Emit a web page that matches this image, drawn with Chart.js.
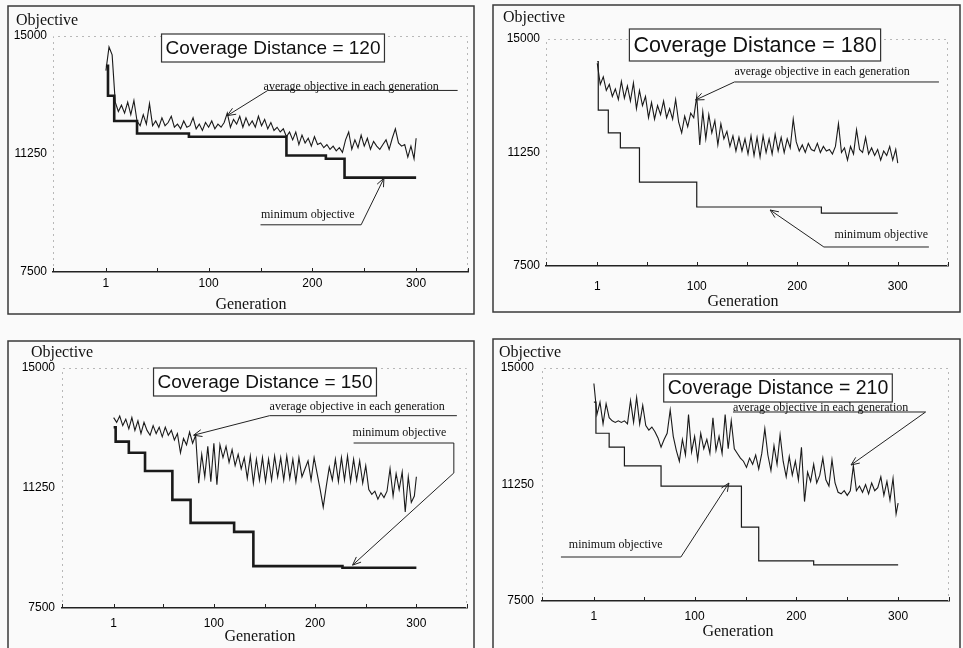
<!DOCTYPE html>
<html>
<head>
<meta charset="utf-8">
<script src="https://cdn.jsdelivr.net/npm/chart.js@4.4.0/dist/chart.umd.min.js"></script>
<style>
body { margin: 0; background: #fafafa; width: 963px; height: 648px; overflow: hidden; position: relative; }
canvas { position: absolute; }
</style>
</head>
<body>
<canvas id="c120" width="468" height="310" style="left:7px;top:5px"></canvas>
<canvas id="c180" width="469" height="309" style="left:492px;top:4px"></canvas>
<canvas id="c150" width="468" height="310" style="left:7px;top:340px"></canvas>
<canvas id="c210" width="469" height="312" style="left:492px;top:338px"></canvas>
<script>
// generation of each sampled average value
var gens = [1,4,7,10,13,16,19,22,25,28,31,34,37,40,43,46,49,52,55,58,61,64,67,70,73,76,79,82,85,88,
  91,94,97,100,103,106,109,112,115,118,121,124,127,130,133,136,139,142,145,148,151,154,157,160,163,166,169,172,175,178,
  181,184,187,190,193,196,199,202,205,208,211,214,217,220,223,226,229,232,235,238,241,244,247,250,253,256,259,262,265,268,
  271,274,277,280,283,286,289,292,295,298,300];

var xTicks = [-50, 1, 50, 100, 150, 200, 250, 300, 350];
var xLabels = [1, 100, 200, 300];
var yTicks = [7500, 11250, 15000];

// coverage distance 120
var avg120 = [13900,14650,14400,12900,12600,12800,12550,12900,12500,12950,
  12300,12150,12500,12200,12850,12150,12300,12100,12400,12150,
  12250,12450,12100,12200,12050,12300,12100,12150,12400,12050,
  12200,12000,12250,12100,12300,12050,12200,12100,12250,12550,
  12100,12350,12200,12450,12100,12400,12150,12300,12100,12450,
  12150,12350,12050,12250,12000,12100,11950,12050,11800,11950,
  11700,11950,11550,11850,11600,11750,11500,11800,11550,11600,
  11450,11550,11400,11500,11350,11450,11300,11700,11950,11400,
  11700,11450,11850,11500,11750,11400,11650,11500,11400,11550,
  11700,11400,11750,12050,11600,11500,11550,11150,11500,11100,
  11750];
var minGens120 = [1, 3, 9, 31, 81, 175, 213, 231, 300];
var minVals120 = [14050, 13100, 12300, 11900, 11800, 11200, 11100, 10500, 10500];

// coverage distance 180
var avg180 = [14200,13500,13750,13300,13500,13100,13350,13000,13600,13050,
  13450,12950,13550,12700,13300,12800,13100,12400,12900,12350,
  12800,12500,12950,12400,12700,12350,13000,12250,11900,12450,
  12100,12550,12400,13100,11500,12600,11700,12500,11900,12300,
  11500,12200,11700,11950,11450,11800,11300,11750,11300,11700,
  11200,11800,11150,11750,11100,11800,11250,11700,11200,11850,
  11300,11750,11250,11700,11400,12350,11600,11300,11500,11250,
  11550,11350,11300,11550,11250,11450,11300,11350,11200,11450,
  12200,11250,11400,11000,11450,11200,12000,11350,11250,11750,
  11200,11400,11150,11350,11000,11300,11150,11450,11000,11350,
  10900];
var minGens180 = [1, 2, 12, 24, 43, 100, 224, 300];
var minVals180 = [14250, 12650, 11900, 11400, 10270, 9450, 9250, 9250];

// coverage distance 150
var avg150 = [13450,13300,13500,13200,13400,13100,13450,13050,13350,12950,
  13300,13050,12900,13200,12950,13150,12850,13150,12900,13050,
  12750,12950,12350,12800,12600,13000,12650,12900,11400,12300,
  11600,12550,11450,12650,11350,12600,12200,12550,12050,12450,
  11950,12300,11850,12200,11550,12250,11400,12150,11500,12200,
  11450,12150,11500,12250,11600,12200,11500,12250,11550,12150,
  11450,12200,11600,11850,12100,11500,12200,11700,11200,10650,
  11300,11900,11500,12150,11450,12200,11500,12250,11450,12150,
  11500,12100,11400,11950,11200,11050,11150,10900,11100,10950,
  11150,11850,11000,11700,11200,11750,10500,11600,10800,11000,
  11600];
var minGens150 = [1, 3, 16, 32, 59, 77, 120, 139, 227, 300];
var minVals150 = [13150, 12700, 12350, 11780, 10880, 10160, 9880, 8810, 8760, 8760];

// coverage distance 210
var avg210 = [14500,13500,13900,13200,13850,13400,13300,13250,13300,13250,
  13300,13200,13950,13250,14050,13200,13800,13150,13000,13100,
  12950,12750,12450,12700,12900,13650,12800,12350,12000,12700,
  12200,13500,12300,12800,12050,12900,12400,12700,12250,13400,
  12350,12800,12250,13500,12400,13300,12400,12250,12100,12000,
  11800,12100,11900,12200,11750,12250,13050,12200,11700,12500,
  11900,12850,12000,11500,12150,11550,12000,11400,12450,10700,
  11650,11350,11900,11300,11550,12100,11400,11200,12050,11300,
  11000,10950,11050,10900,11050,11850,11050,11200,11000,11250,
  10950,11300,11050,11150,11500,10900,11350,10750,11450,10300,
  10650];
var minGens210 = [1, 3, 16, 31, 67, 146, 163, 217, 300];
var minVals210 = [13900, 12900, 12450, 11850, 11200, 9880, 8790, 8660, 8660];

var avgLabel = 'average objective in each generation';
var minLabel = 'minimum objective';

var decor = {
  id: 'decor',
  beforeDatasetsDraw: function(chart, args, o) {
    var ctx = chart.ctx, a = chart.chartArea;
    ctx.save();
    ctx.strokeStyle = '#b8b8b8';
    ctx.lineWidth = 1;
    ctx.setLineDash([2, 4]);
    ctx.beginPath();
    ctx.moveTo(a.left + 0.5, a.bottom);
    ctx.lineTo(a.left + 0.5, a.top + 0.5);
    ctx.lineTo(a.right - 0.5, a.top + 0.5);
    ctx.lineTo(a.right - 0.5, a.bottom);
    ctx.stroke();
    ctx.restore();
  },
  afterDraw: function(chart, args, o) {
    var ctx = chart.ctx, a = chart.chartArea;
    var sx = chart.scales.x, sy = chart.scales.y;
    var px = function(g) { return sx.getPixelForValue(g); };
    var py = function(v) { return sy.getPixelForValue(v); };
    ctx.save();
    // panel frame
    ctx.strokeStyle = '#3a3a3a';
    ctx.lineWidth = 1.5;
    ctx.strokeRect(1, 1, chart.width - 2, chart.height - 2);
    // small tick marks pointing up from the axis
    ctx.lineWidth = 1;
    ctx.strokeStyle = '#222';
    sx.ticks.forEach(function(t) {
      var xx = Math.round(px(t.value)) + 0.5;
      ctx.beginPath();
      ctx.moveTo(xx, a.bottom);
      ctx.lineTo(xx, a.bottom - 4);
      ctx.stroke();
    });
    // axis titles
    ctx.fillStyle = '#111';
    ctx.font = '16px "Liberation Serif"';
    ctx.textBaseline = 'middle';
    ctx.textAlign = 'left';
    ctx.fillText('Objective', o.obj[0], o.obj[1]);
    ctx.textAlign = 'center';
    ctx.fillText('Generation', o.gen[0], o.gen[1]);
    // title box
    ctx.font = o.titleSize + 'px "Liberation Sans"';
    var txt = 'Coverage Distance = ' + o.cd;
    var bw = ctx.measureText(txt).width + 8, bh = o.boxH;
    ctx.fillStyle = '#fff';
    ctx.fillRect(o.title[0] - bw / 2, o.title[1] - bh / 2, bw, bh);
    ctx.strokeStyle = '#333';
    ctx.lineWidth = 1.2;
    ctx.strokeRect(o.title[0] - bw / 2, o.title[1] - bh / 2, bw, bh);
    ctx.fillStyle = '#111';
    ctx.fillText(txt, o.title[0], o.title[1] + 1);
    // annotations
    ctx.font = '12px "Liberation Serif"';
    ctx.textAlign = 'left';
    o.notes.forEach(function(n) { ctx.fillText(n.text, px(n.at[0]), py(n.at[1])); });
    ctx.lineWidth = 1;
    ctx.strokeStyle = '#222';
    o.leaders.forEach(function(pts) {
      ctx.beginPath();
      pts.forEach(function(p, i) {
        if (i === 0) ctx.moveTo(px(p[0]), py(p[1])); else ctx.lineTo(px(p[0]), py(p[1]));
      });
      ctx.stroke();
      var n = pts.length;
      var x1 = px(pts[n - 2][0]), y1 = py(pts[n - 2][1]);
      var x2 = px(pts[n - 1][0]), y2 = py(pts[n - 1][1]);
      var ang = Math.atan2(y2 - y1, x2 - x1);
      ctx.beginPath();
      ctx.moveTo(x2 - 9 * Math.cos(ang - 0.4), y2 - 9 * Math.sin(ang - 0.4));
      ctx.lineTo(x2, y2);
      ctx.lineTo(x2 - 9 * Math.cos(ang + 0.4), y2 - 9 * Math.sin(ang + 0.4));
      ctx.stroke();
    });
    ctx.restore();
  }
};

function makePanel(id, cd, avg, minG, minV, minWidth, pad, lab) {
  var ctx = document.getElementById(id);
  new Chart(ctx, {
    type: 'line',
    data: {
      datasets: [{
        data: gens.map(function(g, i) { return { x: g, y: avg[i] }; }),
        borderColor: '#1a1a1a',
        borderWidth: 1.1,
        pointRadius: 0,
        tension: 0
      }, {
        data: minG.map(function(g, i) { return { x: g, y: minV[i] }; }),
        borderColor: '#1a1a1a',
        borderWidth: minWidth,
        pointRadius: 0,
        stepped: 'before'
      }]
    },
    options: {
      responsive: false,
      animation: false,
      events: [],
      layout: { padding: { top: pad.t, right: pad.r, left: 0, bottom: 0 } },
      plugins: { legend: { display: false }, tooltip: { enabled: false }, decor: lab },
      scales: {
        x: {
          type: 'linear', min: -50, max: 350,
          afterBuildTicks: function(s) { s.ticks = xTicks.map(function(v) { return { value: v }; }); },
          afterFit: function(s) { s.height = pad.b; },
          grid: { display: false, drawTicks: false },
          border: { display: true, color: '#222', width: 1.5 },
          ticks: {
            autoSkip: false, maxRotation: 0, padding: pad.xp, color: '#000',
            font: { family: 'Liberation Sans', size: 12 },
            callback: function(v) { return xLabels.indexOf(v) >= 0 ? String(v) : ''; }
          }
        },
        y: {
          min: 7500, max: 15000,
          afterBuildTicks: function(s) { s.ticks = yTicks.map(function(v) { return { value: v }; }); },
          afterFit: function(s) { s.width = pad.l; },
          grid: { display: false, drawTicks: false },
          border: { display: false },
          ticks: {
            padding: pad.yp, color: '#000', font: { family: 'Liberation Sans', size: 12 },
            callback: function(v) { return String(v); }
          }
        }
      }
    },
    plugins: [decor]
  });
}

makePanel('c120', 120, avg120, minGens120, minVals120, 2.6,
  { l: 46, r: 7, t: 31, b: 43, xp: 4, yp: 6 },
  { cd: 120, titleSize: 19, boxH: 28, title: [266, 43], obj: [9, 16], gen: [244, 300],
    notes: [{ text: avgLabel, at: [153, 13400] }, { text: minLabel, at: [150.5, 9330] }],
    leaders: [[[340, 13270], [157, 13270], [118, 12470]], [[150, 9000], [247, 9000], [269, 10480]]] });

makePanel('c180', 180, avg180, minGens180, minVals180, 1.2,
  { l: 54, r: 1, t: 35, b: 47, xp: 13, yp: 6 },
  { cd: 180, titleSize: 21.5, boxH: 32, title: [263, 41], obj: [11, 14], gen: [251, 298],
    notes: [{ text: avgLabel, at: [137.5, 13910] }, { text: minLabel, at: [237, 8524] }],
    leaders: [[[341, 13580], [137.5, 13580], [98.8, 12985]], [[331, 8128], [226.5, 8128], [173, 9350]]] });

makePanel('c150', 150, avg150, minGens150, minVals150, 2.6,
  { l: 55, r: 2, t: 28, b: 42, xp: 8, yp: 7 },
  { cd: 150, titleSize: 19, boxH: 28, title: [258, 42], obj: [24, 13], gen: [253, 297],
    notes: [{ text: avgLabel, at: [155, 13781] }, { text: minLabel, at: [237, 12970] }],
    leaders: [[[340, 13510], [155, 13510], [80, 12900]], [[238, 12656], [337, 12656], [337, 11720], [237, 8840]]] });

makePanel('c210', 210, avg210, minGens210, minVals210, 1.2,
  { l: 50, r: 12, t: 30, b: 49, xp: 8, yp: 8 },
  { cd: 210, titleSize: 19.5, boxH: 28, title: [286, 50], obj: [7, 15], gen: [246, 294],
    notes: [{ text: avgLabel, at: [137.7, 13712] }, { text: minLabel, at: [-23.6, 9302] }],
    leaders: [[[137.7, 13584], [327, 13584], [253.7, 11878]], [[-31.4, 8916], [86.5, 8916], [133.7, 11298]]] });
</script>
</body>
</html>
